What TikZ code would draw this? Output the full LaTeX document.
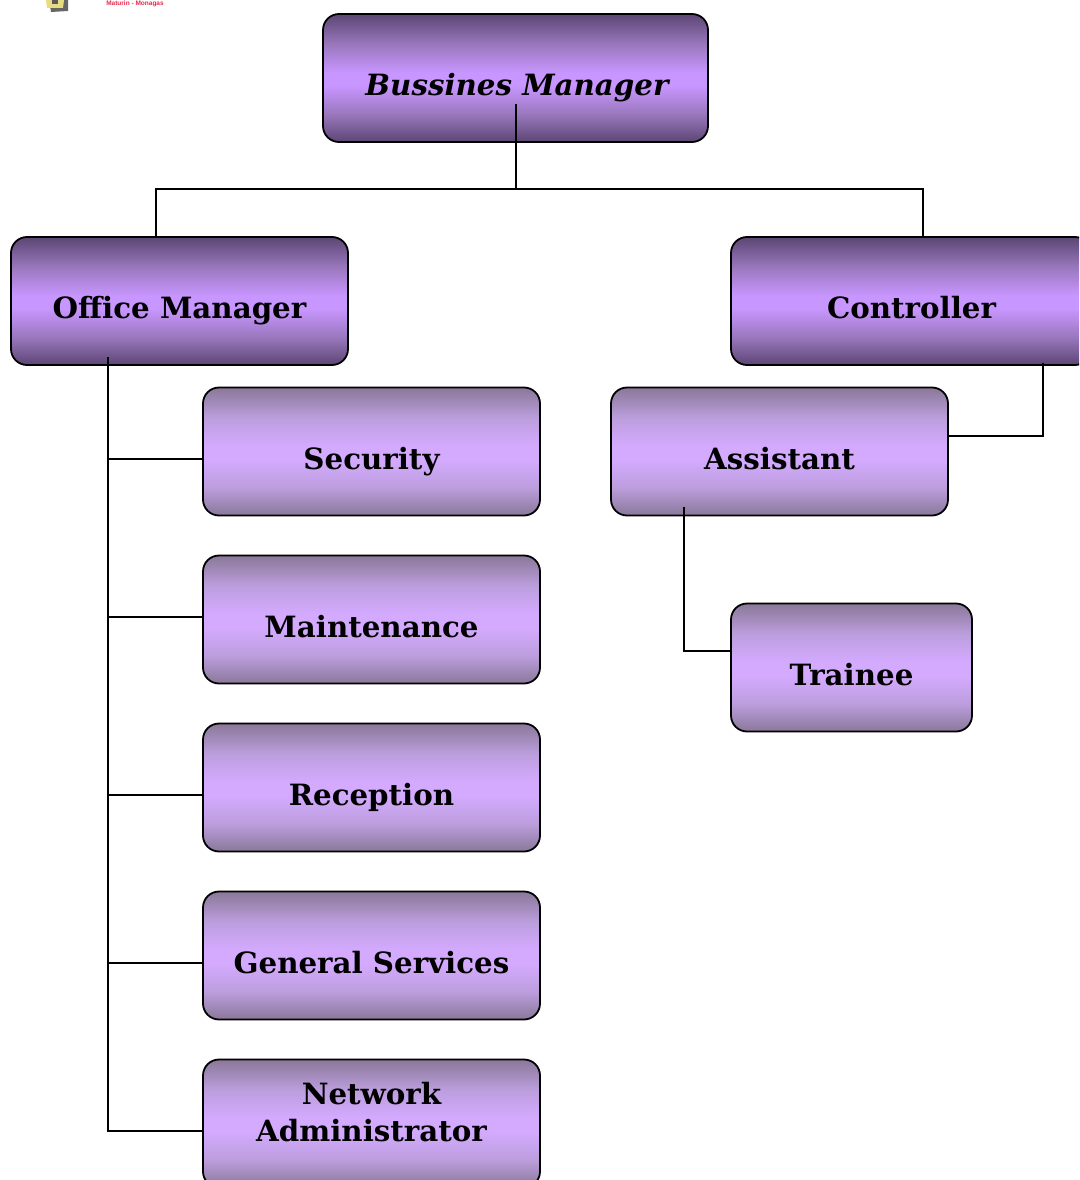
\documentclass[tikz,border=0pt]{standalone}
\usepackage{fontspec}
\setmainfont{DejaVu Serif}
\newfontfamily\logofont{Liberation Sans}
\definecolor{strongA}{HTML}{5C4674}
\definecolor{strongB}{HTML}{9A78BE}
\definecolor{strongC}{HTML}{C896FF}
\definecolor{softA}{HTML}{8A7898}
\definecolor{softB}{HTML}{BC9EDE}
\definecolor{softC}{HTML}{D4AAFF}
\definecolor{logoyellow}{HTML}{E8DC80}
\definecolor{logored}{HTML}{E8284C}
\pgfdeclareverticalshading{strongshade}{100bp}{color(0bp)=(strongA); color(25bp)=(strongA); color(36bp)=(strongB); color(47bp)=(strongC); color(52bp)=(strongC); color(63bp)=(strongB); color(75bp)=(strongA); color(100bp)=(strongA)}
\pgfdeclareverticalshading{softshade}{100bp}{color(0bp)=(softA); color(25bp)=(softA); color(36bp)=(softB); color(47bp)=(softC); color(52bp)=(softC); color(63bp)=(softB); color(75bp)=(softA); color(100bp)=(softA)}
\tikzset{
  box/.style={draw=black,line width=1.8pt,rounded corners=16pt,minimum height=128pt,inner sep=0pt},
  strong/.style={box,shading=strongshade},
  soft/.style={box,shading=softshade},
  wide/.style={minimum width=337pt},
  lbl/.style={anchor=base,inner sep=0pt,text=black,font=\fontsize{29.3}{37}\selectfont\bfseries},
  link/.style={draw=black,line width=2pt,line join=miter}
}
\begin{document}
\begin{tikzpicture}[x=1pt,y=-1pt]
\useasboundingbox (0,0) rectangle (1079,1180);
\clip (0,0) rectangle (1079,1180);
% logo fragment
\fill[black!60] (49,0) -- (68,0) -- (68,11) -- (51,12) -- cycle;
\fill[logoyellow] (46,0) -- (64,0) -- (63,8) -- (47,8) -- cycle;
\fill[black!65] (52,0) rectangle (58,4);
\node[text=logored,font=\logofont\fontsize{6.5}{7}\selectfont\bfseries,inner sep=0pt] (logotext) at (135,4) {Maturin - Monagas};
% boxes
\node[strong,minimum width=385pt] (bm) at (515.5,78) {};
\node[strong,wide] (om) at (179.5,301) {};
\node[strong,minimum width=360pt] (ctrl) at (911,301) {};
\node[soft,wide] (sec) at (371.5,451.5) {};
\node[soft,wide] (maint) at (371.5,619.5) {};
\node[soft,wide] (recep) at (371.5,787.5) {};
\node[soft,wide] (gen) at (371.5,955.5) {};
\node[soft,wide] (net) at (371.5,1123.5) {};
\node[soft,wide] (asst) at (779.5,451.5) {};
\node[soft,minimum width=241pt] (train) at (851.5,667.5) {};
% labels
\node[lbl] (bmt) at (517,95.5) {\itshape Bussines Manager};
\node[lbl] (omt) at (179.5,318.5) {Office Manager};
\node[lbl] (ctrlt) at (911.5,318.5) {Controller};
\node[lbl] (sect) at (371.5,469) {Security};
\node[lbl] (maintt) at (371.5,637) {Maintenance};
\node[lbl] (rect) at (371.5,805) {Reception};
\node[lbl] (gent) at (371.5,973) {General Services};
\node[lbl] (net1) at (371.5,1104) {Network};
\node[lbl] (net2) at (371.5,1141) {Administrator};
\node[lbl] (asstt) at (779.5,469) {Assistant};
\node[lbl] (traint) at (851.5,685) {Trainee};
% connectors
\coordinate (hub) at (516,189);
\draw[link] ([xshift=0.5pt,yshift=-26pt]bm.center) -- (hub);
\draw[link] ([xshift=-24pt]om.north) |- (hub) -| ([xshift=12pt]ctrl.north);
\coordinate (trunk) at (108,357);
\draw[link] (trunk) |- ([yshift=-7.5pt]net.west);
\draw[link] (108,459) -- ([yshift=-7.5pt]sec.west);
\draw[link] (108,616.5) -- ([yshift=3pt]maint.west);
\draw[link] (108,795) -- ([yshift=-7.5pt]recep.west);
\draw[link] (108,963) -- ([yshift=-7.5pt]gen.west);
\draw[link] ([yshift=16pt]asst.east) -| ([xshift=132pt,yshift=-62pt]ctrl.center);
\draw[link] ([xshift=-96pt,yshift=-55.5pt]asst.center) |- ([yshift=16.5pt]train.west);
\end{tikzpicture}
\end{document}
